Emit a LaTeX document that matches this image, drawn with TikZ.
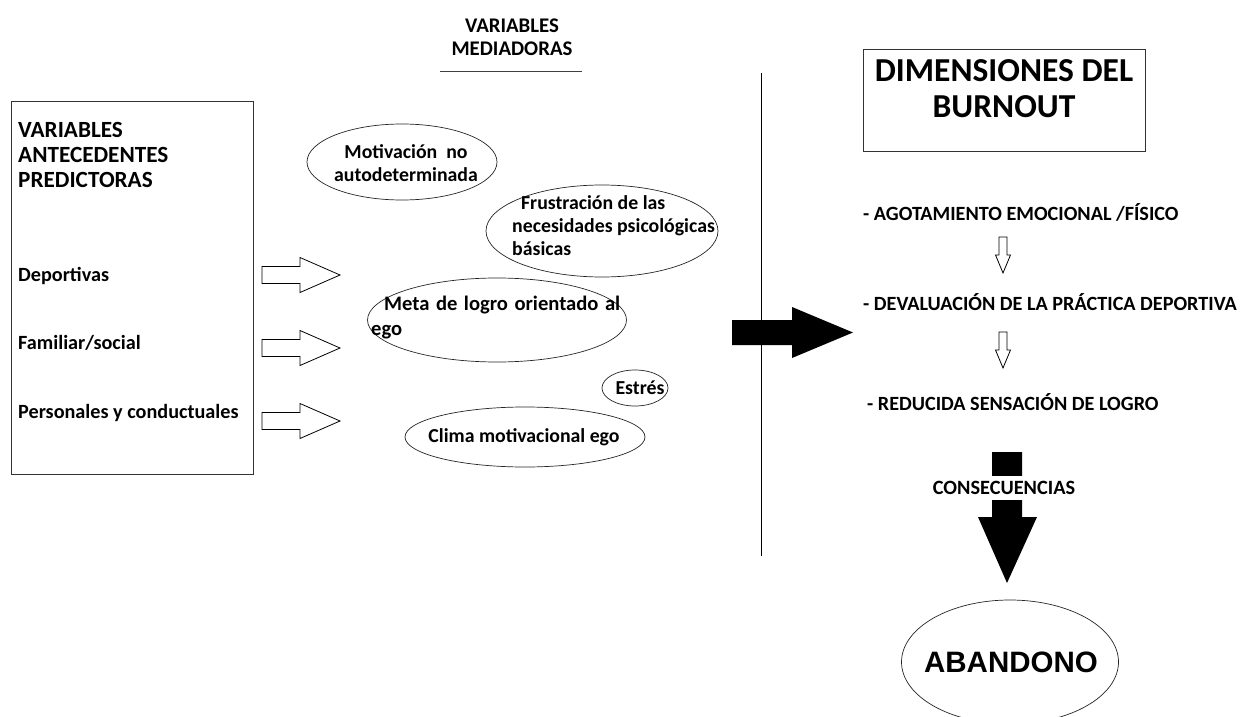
\documentclass[tikz,border=0pt]{standalone}
\usepackage{fontspec}
\setmainfont{Carlito}
\newfontfamily\arialfont{Liberation Sans}
\usetikzlibrary{shapes.geometric}
\tikzset{
  lbl/.style={inner sep=0, anchor=west, align=left, font=\bfseries\fontsize{20.2}{23}\selectfont},
  etxt/.style={inner sep=0, align=left, font=\bfseries\fontsize{19.8}{23}\selectfont},
  ell/.style={draw=black!85, line width=0.7pt, ellipse, inner sep=0},
  frame/.style={draw=black!80, line width=1pt, inner sep=0},
  hollow/.style={draw=black, line width=0.8pt, fill=white},
  harrow/.pic={\draw[hollow] (0,-8.5) -- (38,-8.5) -- (38,-17.5) -- (78,0) -- (38,17.5) -- (38,8.5) -- (0,8.5) -- cycle;},
  darrow/.pic={\draw[hollow] (-4,0) -- (-4,18) -- (-7.5,18) -- (0,36) -- (7.5,18) -- (4,18) -- (4,0) -- cycle;}
}
\begin{document}
\begin{tikzpicture}[x=1pt,y=-1pt]
\useasboundingbox (0,0) rectangle (1243,717);
\clip (0,0) rectangle (1243,717);
\fill[white] (0,0) rectangle (1243,717);

% title mediadoras
\node[inner sep=0, align=center, font=\bfseries\fontsize{20.8}{23}\selectfont] (tmed) at (512,37) {VARIABLES\\MEDIADORAS};
\coordinate (ulA) at (440,71);
\coordinate (ulB) at (582,71);
\draw[black!75, line width=0.9pt] (ulA) -- (ulB);

% left box
\node[frame, minimum width=242, minimum height=373, anchor=north west] (lbox) at (11,101) {};
\node[lbl, font=\bfseries\fontsize{23.2}{25}\selectfont] (tant) at (18,155) {VARIABLES\\ANTECEDENTES\\PREDICTORAS};
\node[lbl] (dep) at (18,276) {Deportivas};
\node[lbl] (fam) at (18,343) {Familiar/social};
\node[lbl] (per) at (18,413) {Personales y conductuales};

% hollow arrows
\pic at (262,275) {harrow};
\pic at (262,348) {harrow};
\pic at (262,421) {harrow};

% ellipses
\node[ell, minimum width=190, minimum height=76] (e1) at (402,162) {};
\node[etxt, align=center] (t1) at (406,163) {Motivaci\'on\ \ no\\autodeterminada};
\node[ell, minimum width=232, minimum height=92] (e2) at (602,231) {};
\node[etxt, anchor=north west] (t2) at (512,195) {\ \ Frustraci\'on de las\\necesidades psicol\'ogicas\\b\'asicas};
\node[ell, minimum width=259, minimum height=84] (e3) at (497,320) {};
\node[etxt, anchor=north west, font=\bfseries\fontsize{20.6}{25}\selectfont] (t3) at (371,296) {\hspace*{13pt}\makebox[236pt][s]{Meta de logro orientado al}\\ego};
\node[ell, minimum width=66, minimum height=36] (e4) at (635,388) {};
\node[etxt] (t4) at (640,388) {Estr\'es};
\node[ell, minimum width=240, minimum height=60] (e5) at (525,437) {};
\node[etxt] (t5) at (524,437) {Clima motivacional ego};

% divider
\coordinate (vtop) at (761,73);
\coordinate (vbot) at (761,556);
\draw[black, line width=1pt] (vtop) -- (vbot);

% big black arrow
\fill[black] (732,320) -- (792,320) -- (792,307) -- (853,332.5) -- (792,358) -- (792,345) -- (732,345) -- cycle;

% dimensiones box
\node[frame, minimum width=282, minimum height=102, anchor=north west] (dbox) at (863,49) {};
\node[inner sep=0, align=center, font=\bfseries\fontsize{33.5}{36}\selectfont] (tdim) at (1004,89) {DIMENSIONES DEL\\BURNOUT};

% list
\node[lbl] (l1) at (863,212) {- AGOTAMIENTO EMOCIONAL /F\'ISICO};
\pic at (1003,237) {darrow};
\node[lbl] (l2) at (863,302) {- DEVALUACI\'ON DE LA PR\'ACTICA DEPORTIVA};
\pic at (1003,332) {darrow};
\node[lbl] (l3) at (867,402) {- REDUCIDA SENSACI\'ON DE LOGRO};

% consecuencias arrow
\fill[black] (992,452) -- (1022,452) -- (1022,517) -- (1037,517) -- (1007,583) -- (978,517) -- (992,517) -- cycle;
\node[inner sep=0, fill=white, minimum height=24, font=\bfseries\fontsize{20.3}{23}\selectfont] (cons) at (1004,488) {CONSECUENCIAS};

% abandono
\node[ell, minimum width=217, minimum height=124] (eab) at (1010,662) {};
\node[inner sep=0, font=\arialfont\bfseries\fontsize{29.5}{33}\selectfont] (tab) at (1011,662) {ABANDONO};
\end{tikzpicture}
\end{document}
